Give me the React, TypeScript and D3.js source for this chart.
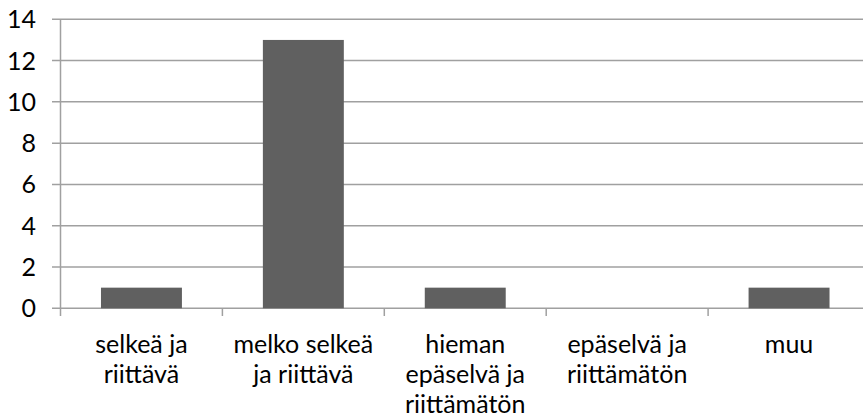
import React from "react";
import * as d3 from "d3";

const categories: string[][] = [
  ["selkeä ja", "riittävä"],
  ["melko selkeä", "ja riittävä"],
  ["hieman", "epäselvä ja", "riittämätön"],
  ["epäselvä ja", "riittämätön"],
  ["muu"],
];
const values: number[] = [1, 13, 1, 0, 1];
const yTicks: number[] = [0, 2, 4, 6, 8, 10, 12, 14];

const W = 863;
const H = 418;
const left = 60.5;
const right = 870;
const top = 19.3;
const bottom = 308.3;
const FONT = "Lato, sans-serif";
const FS = 25;

export default function App() {
  const keys = categories.map((_, i) => String(i));
  const x = d3.scaleBand<string>().domain(keys).range([left, right]).paddingInner(0.5).paddingOuter(0.25);
  const xStep = d3.scaleBand<string>().domain(keys).range([left, right]);
  const y = d3.scaleLinear().domain([0, 14]).range([bottom, top]);

  return (
    <svg width={W} height={H} style={{ position: "absolute", left: 0, top: 0, background: "#fff" }}>
      {yTicks.map((t) => (
        <g key={t}>
          <line x1={52} x2={right} y1={y(t)} y2={y(t)} stroke="#a0a0a0" strokeWidth={1.5} />
          <text x={36} y={y(t)} dy="0.36em" textAnchor="end" fontFamily={FONT} fontSize={FS} fill="#000">
            {t}
          </text>
        </g>
      ))}
      <line x1={left} x2={left} y1={top} y2={316} stroke="#a0a0a0" strokeWidth={1.5} />
      {keys.map((k) => (
        <line key={k} x1={(xStep(k) as number) + xStep.bandwidth()} x2={(xStep(k) as number) + xStep.bandwidth()} y1={bottom} y2={316} stroke="#a0a0a0" strokeWidth={1.5} />
      ))}
      {values.map((v, i) => (
        v > 0 ? (
          <rect key={i} x={x(String(i))} width={x.bandwidth()} y={y(v)} height={y(0) - y(v)} fill="#606060" />
        ) : null
      ))}
      {categories.map((lines, i) => (
        <text key={i} textAnchor="middle" fontFamily={FONT} fontSize={FS} fill="#000">
          {lines.map((l, j) => (
            <tspan key={j} x={(x(String(i)) as number) + x.bandwidth() / 2} y={353 + j * 30}>
              {l}
            </tspan>
          ))}
        </text>
      ))}
    </svg>
  );
}
